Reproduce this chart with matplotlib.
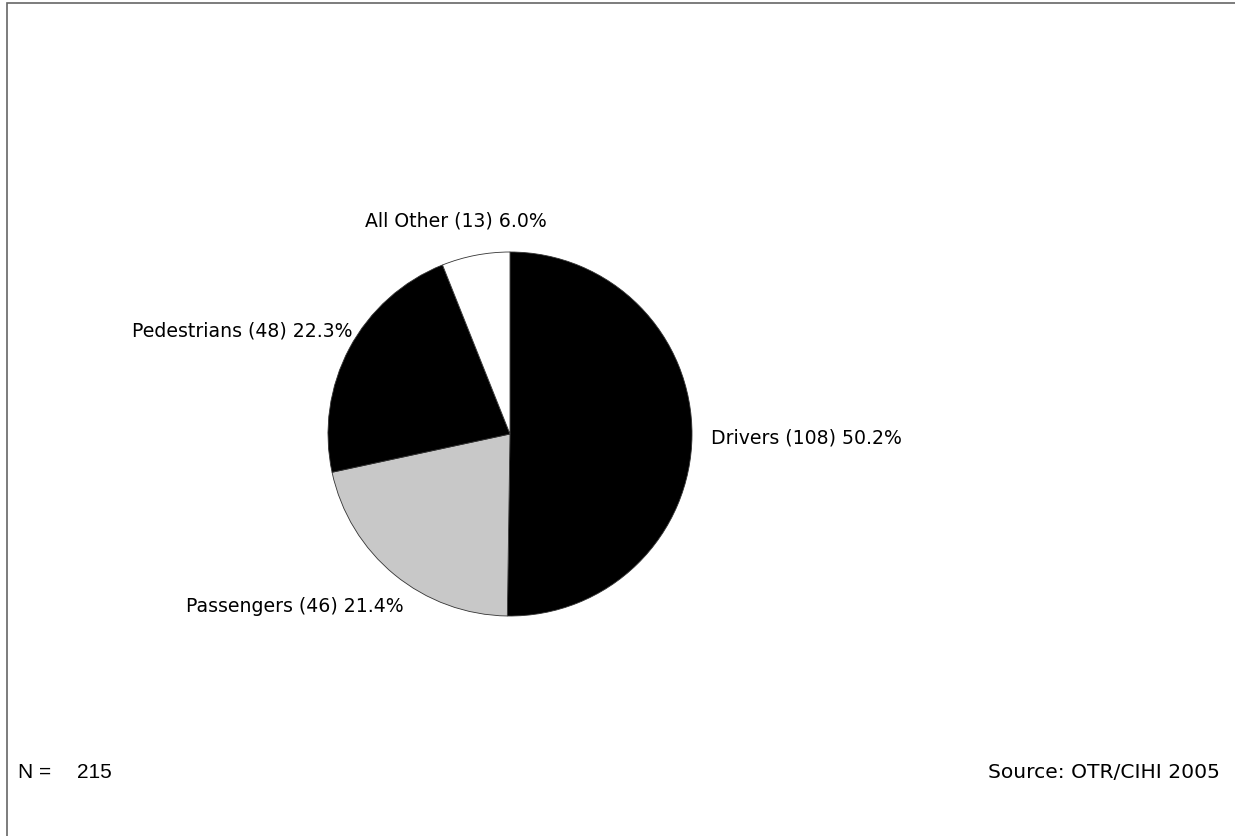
import matplotlib.pyplot as plt
from matplotlib.patches import Rectangle

# Injury counts by road user type
categories = ['Drivers', 'Passengers', 'Pedestrians', 'All Other']
counts = [108, 46, 48, 13]
colors = ['#000000', '#c8c8c8', '#000000', '#ffffff']
total = sum(counts)

W, H = 1235, 837
fig = plt.figure(figsize=(W / 100, H / 100), dpi=100)
ax = fig.add_axes([0, 0, 1, 1])

# outer frame (only left and top edges fall inside the canvas)
ax.add_patch(Rectangle((7, -20), W + 40, H - 4 + 20, fill=False,
                       edgecolor='#666666', linewidth=1.2))

cx, cy, r = 510, H - 435, 182
wedges, _ = ax.pie(counts, colors=colors, startangle=90, counterclock=False,
                   center=(cx, cy), radius=r,
                   wedgeprops=dict(edgecolor='#333333', linewidth=0.6))
ax.set_xlim(0, W)
ax.set_ylim(0, H)
ax.set_aspect('equal')
ax.axis('off')

# label anchors (pixel offsets from pie centre) and alignment
label_pos = [(201, -3, 'left'), (-106, -171, 'right'), (-158, 104, 'right'), (-54, 214, 'center')]
for name, n, (dx, dy, ha) in zip(categories, counts, label_pos):
    pct = 100.0 * n / total
    ax.text(cx + dx, cy + dy, f'{name} ({n}) {pct:.1f}%', ha=ha, va='center',
            fontsize=13.6, family='DejaVu Sans')

ax.text(18, H - 773, 'N =', ha='left', va='center', fontsize=15, family='Liberation Sans')
ax.text(77, H - 773, f'{total}', ha='left', va='center', fontsize=15, family='Liberation Sans')
ax.text(1220, H - 773, 'Source: OTR/CIHI 2005', ha='right', va='center',
        fontsize=14.6, family='DejaVu Sans')

fig.savefig('out.png', dpi=100)
